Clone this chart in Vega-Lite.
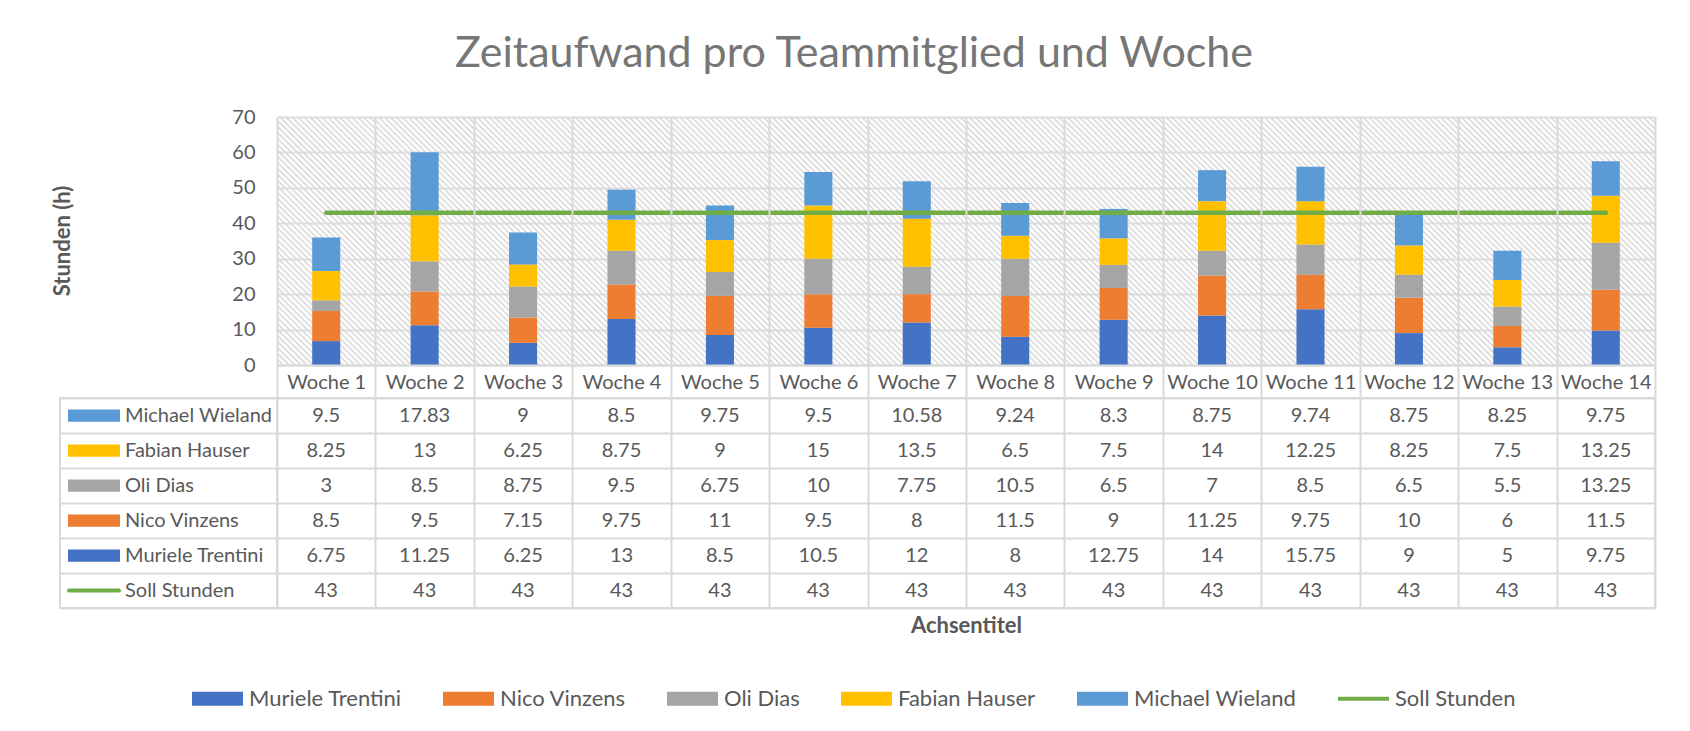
{
  "$schema": "https://vega.github.io/schema/vega-lite/v6.json",
  "padding": {"left": 51, "top": 33, "right": 34, "bottom": 5},
  "title": {"text": "Zeitaufwand pro Teammitglied und Woche", "fontSize": 43, "font": "Lato", "fontWeight": "normal", "color": "#767676", "anchor": "middle", "baseline": "alphabetic", "offset": -3},
  "config": {
    "font": "Lato",
    "view": {"stroke": null},
    "axis": {"labelFont": "Lato", "titleFont": "Lato", "labelColor": "#595959", "titleColor": "#595959", "gridColor": "#d9d9d9", "gridWidth": 2, "tickColor": "#d9d9d9", "tickWidth": 2, "domainColor": "#d9d9d9", "domainWidth": 2},
    "legend": {"labelFont": "Lato", "labelFontSize": 22, "labelColor": "#595959", "labelLimit": 400}
  },
  "data": {"values": [
    {"week": "Woche 1", "Muriele Trentini": 6.75, "Nico Vinzens": 8.5, "Oli Dias": 3, "Fabian Hauser": 8.25, "Michael Wieland": 9.5, "Soll Stunden": 43},
    {"week": "Woche 2", "Muriele Trentini": 11.25, "Nico Vinzens": 9.5, "Oli Dias": 8.5, "Fabian Hauser": 13, "Michael Wieland": 17.83, "Soll Stunden": 43},
    {"week": "Woche 3", "Muriele Trentini": 6.25, "Nico Vinzens": 7.15, "Oli Dias": 8.75, "Fabian Hauser": 6.25, "Michael Wieland": 9, "Soll Stunden": 43},
    {"week": "Woche 4", "Muriele Trentini": 13, "Nico Vinzens": 9.75, "Oli Dias": 9.5, "Fabian Hauser": 8.75, "Michael Wieland": 8.5, "Soll Stunden": 43},
    {"week": "Woche 5", "Muriele Trentini": 8.5, "Nico Vinzens": 11, "Oli Dias": 6.75, "Fabian Hauser": 9, "Michael Wieland": 9.75, "Soll Stunden": 43},
    {"week": "Woche 6", "Muriele Trentini": 10.5, "Nico Vinzens": 9.5, "Oli Dias": 10, "Fabian Hauser": 15, "Michael Wieland": 9.5, "Soll Stunden": 43},
    {"week": "Woche 7", "Muriele Trentini": 12, "Nico Vinzens": 8, "Oli Dias": 7.75, "Fabian Hauser": 13.5, "Michael Wieland": 10.58, "Soll Stunden": 43},
    {"week": "Woche 8", "Muriele Trentini": 8, "Nico Vinzens": 11.5, "Oli Dias": 10.5, "Fabian Hauser": 6.5, "Michael Wieland": 9.24, "Soll Stunden": 43},
    {"week": "Woche 9", "Muriele Trentini": 12.75, "Nico Vinzens": 9, "Oli Dias": 6.5, "Fabian Hauser": 7.5, "Michael Wieland": 8.3, "Soll Stunden": 43},
    {"week": "Woche 10", "Muriele Trentini": 14, "Nico Vinzens": 11.25, "Oli Dias": 7, "Fabian Hauser": 14, "Michael Wieland": 8.75, "Soll Stunden": 43},
    {"week": "Woche 11", "Muriele Trentini": 15.75, "Nico Vinzens": 9.75, "Oli Dias": 8.5, "Fabian Hauser": 12.25, "Michael Wieland": 9.74, "Soll Stunden": 43},
    {"week": "Woche 12", "Muriele Trentini": 9, "Nico Vinzens": 10, "Oli Dias": 6.5, "Fabian Hauser": 8.25, "Michael Wieland": 8.75, "Soll Stunden": 43},
    {"week": "Woche 13", "Muriele Trentini": 5, "Nico Vinzens": 6, "Oli Dias": 5.5, "Fabian Hauser": 7.5, "Michael Wieland": 8.25, "Soll Stunden": 43},
    {"week": "Woche 14", "Muriele Trentini": 9.75, "Nico Vinzens": 11.5, "Oli Dias": 13.25, "Fabian Hauser": 13.25, "Michael Wieland": 9.75, "Soll Stunden": 43}
  ]},
  "columns": 2,
  "spacing": {"row": 33, "column": 0},
  "bounds": "flush",
  "resolve": {"scale": {"color": "shared"}, "legend": {"color": "shared"}},
  "concat": [
    {
      "width": 217, "height": 248,
      "data": {"values": [{"label": "Stunden (h)"}]},
      "mark": {"type": "text", "angle": 270, "fontSize": 22, "fontWeight": "bold", "font": "Lato", "color": "#595959", "align": "center", "baseline": "middle"},
      "encoding": {
        "x": {"datum": 3, "type": "quantitative", "scale": {"domain": [0, 217], "nice": false, "zero": false}, "axis": null},
        "y": {"datum": 35, "type": "quantitative", "scale": {"domain": [0, 70], "nice": false}, "axis": null},
        "text": {"field": "label", "type": "nominal"}
      }
    },
    {
      "width": 1378, "height": 248,
      "transform": [{"fold": ["Muriele Trentini", "Nico Vinzens", "Oli Dias", "Fabian Hauser", "Michael Wieland", "Soll Stunden"], "as": ["key", "value"]}],
      "encoding": {
        "x": {"field": "week", "type": "nominal",
          "sort": ["Woche 1", "Woche 2", "Woche 3", "Woche 4", "Woche 5", "Woche 6", "Woche 7", "Woche 8", "Woche 9", "Woche 10", "Woche 11", "Woche 12", "Woche 13", "Woche 14"],
          "scale": {"paddingInner": 0, "paddingOuter": 0},
          "axis": {"title": null, "labelFontSize": 20, "labelAngle": 0, "tickBand": "extent", "tickSize": 33, "labelPadding": -25.5, "grid": true, "domain": true}},
        "y": {"field": "value", "type": "quantitative",
          "scale": {"domain": [0, 70], "nice": false},
          "axis": {"values": [0, 10, 20, 30, 40, 50, 60, 70], "labelOverlap": false, "title": null, "labelFontSize": 20, "labelPadding": 22, "ticks": false, "domain": false, "grid": true}}
      },
      "layer": [
        {
          "transform": [{"filter": "datum.key === 'Soll Stunden'"}],
          "mark": {"type": "rect", "fill": {"gradient": "linear", "x1": 0, "y1": 1, "x2": 0.479, "y2": -0.207, "stops": [
            {"offset": 0, "color": "#d2d2d2"}, {"offset": 0.0086, "color": "rgba(255,255,255,0)"},
            {"offset": 0.0172, "color": "#d2d2d2"}, {"offset": 0.0259, "color": "rgba(255,255,255,0)"},
            {"offset": 0.0345, "color": "#d2d2d2"}, {"offset": 0.0431, "color": "rgba(255,255,255,0)"},
            {"offset": 0.0517, "color": "#d2d2d2"}, {"offset": 0.0603, "color": "rgba(255,255,255,0)"},
            {"offset": 0.069, "color": "#d2d2d2"}, {"offset": 0.0776, "color": "rgba(255,255,255,0)"},
            {"offset": 0.0862, "color": "#d2d2d2"}, {"offset": 0.0948, "color": "rgba(255,255,255,0)"},
            {"offset": 0.1034, "color": "#d2d2d2"}, {"offset": 0.1121, "color": "rgba(255,255,255,0)"},
            {"offset": 0.1207, "color": "#d2d2d2"}, {"offset": 0.1293, "color": "rgba(255,255,255,0)"},
            {"offset": 0.1379, "color": "#d2d2d2"}, {"offset": 0.1466, "color": "rgba(255,255,255,0)"},
            {"offset": 0.1552, "color": "#d2d2d2"}, {"offset": 0.1638, "color": "rgba(255,255,255,0)"},
            {"offset": 0.1724, "color": "#d2d2d2"}, {"offset": 0.181, "color": "rgba(255,255,255,0)"},
            {"offset": 0.1897, "color": "#d2d2d2"}, {"offset": 0.1983, "color": "rgba(255,255,255,0)"},
            {"offset": 0.2069, "color": "#d2d2d2"}, {"offset": 0.2155, "color": "rgba(255,255,255,0)"},
            {"offset": 0.2241, "color": "#d2d2d2"}, {"offset": 0.2328, "color": "rgba(255,255,255,0)"},
            {"offset": 0.2414, "color": "#d2d2d2"}, {"offset": 0.25, "color": "rgba(255,255,255,0)"},
            {"offset": 0.2586, "color": "#d2d2d2"}, {"offset": 0.2672, "color": "rgba(255,255,255,0)"},
            {"offset": 0.2759, "color": "#d2d2d2"}, {"offset": 0.2845, "color": "rgba(255,255,255,0)"},
            {"offset": 0.2931, "color": "#d2d2d2"}, {"offset": 0.3017, "color": "rgba(255,255,255,0)"},
            {"offset": 0.3103, "color": "#d2d2d2"}, {"offset": 0.319, "color": "rgba(255,255,255,0)"},
            {"offset": 0.3276, "color": "#d2d2d2"}, {"offset": 0.3362, "color": "rgba(255,255,255,0)"},
            {"offset": 0.3448, "color": "#d2d2d2"}, {"offset": 0.3534, "color": "rgba(255,255,255,0)"},
            {"offset": 0.3621, "color": "#d2d2d2"}, {"offset": 0.3707, "color": "rgba(255,255,255,0)"},
            {"offset": 0.3793, "color": "#d2d2d2"}, {"offset": 0.3879, "color": "rgba(255,255,255,0)"},
            {"offset": 0.3966, "color": "#d2d2d2"}, {"offset": 0.4052, "color": "rgba(255,255,255,0)"},
            {"offset": 0.4138, "color": "#d2d2d2"}, {"offset": 0.4224, "color": "rgba(255,255,255,0)"},
            {"offset": 0.431, "color": "#d2d2d2"}, {"offset": 0.4397, "color": "rgba(255,255,255,0)"},
            {"offset": 0.4483, "color": "#d2d2d2"}, {"offset": 0.4569, "color": "rgba(255,255,255,0)"},
            {"offset": 0.4655, "color": "#d2d2d2"}, {"offset": 0.4741, "color": "rgba(255,255,255,0)"},
            {"offset": 0.4828, "color": "#d2d2d2"}, {"offset": 0.4914, "color": "rgba(255,255,255,0)"},
            {"offset": 0.5, "color": "#d2d2d2"}, {"offset": 0.5086, "color": "rgba(255,255,255,0)"},
            {"offset": 0.5172, "color": "#d2d2d2"}, {"offset": 0.5259, "color": "rgba(255,255,255,0)"},
            {"offset": 0.5345, "color": "#d2d2d2"}, {"offset": 0.5431, "color": "rgba(255,255,255,0)"},
            {"offset": 0.5517, "color": "#d2d2d2"}, {"offset": 0.5603, "color": "rgba(255,255,255,0)"},
            {"offset": 0.569, "color": "#d2d2d2"}, {"offset": 0.5776, "color": "rgba(255,255,255,0)"},
            {"offset": 0.5862, "color": "#d2d2d2"}, {"offset": 0.5948, "color": "rgba(255,255,255,0)"},
            {"offset": 0.6034, "color": "#d2d2d2"}, {"offset": 0.6121, "color": "rgba(255,255,255,0)"},
            {"offset": 0.6207, "color": "#d2d2d2"}, {"offset": 0.6293, "color": "rgba(255,255,255,0)"},
            {"offset": 0.6379, "color": "#d2d2d2"}, {"offset": 0.6466, "color": "rgba(255,255,255,0)"},
            {"offset": 0.6552, "color": "#d2d2d2"}, {"offset": 0.6638, "color": "rgba(255,255,255,0)"},
            {"offset": 0.6724, "color": "#d2d2d2"}, {"offset": 0.681, "color": "rgba(255,255,255,0)"},
            {"offset": 0.6897, "color": "#d2d2d2"}, {"offset": 0.6983, "color": "rgba(255,255,255,0)"},
            {"offset": 0.7069, "color": "#d2d2d2"}, {"offset": 0.7155, "color": "rgba(255,255,255,0)"},
            {"offset": 0.7241, "color": "#d2d2d2"}, {"offset": 0.7328, "color": "rgba(255,255,255,0)"},
            {"offset": 0.7414, "color": "#d2d2d2"}, {"offset": 0.75, "color": "rgba(255,255,255,0)"},
            {"offset": 0.7586, "color": "#d2d2d2"}, {"offset": 0.7672, "color": "rgba(255,255,255,0)"},
            {"offset": 0.7759, "color": "#d2d2d2"}, {"offset": 0.7845, "color": "rgba(255,255,255,0)"},
            {"offset": 0.7931, "color": "#d2d2d2"}, {"offset": 0.8017, "color": "rgba(255,255,255,0)"},
            {"offset": 0.8103, "color": "#d2d2d2"}, {"offset": 0.819, "color": "rgba(255,255,255,0)"},
            {"offset": 0.8276, "color": "#d2d2d2"}, {"offset": 0.8362, "color": "rgba(255,255,255,0)"},
            {"offset": 0.8448, "color": "#d2d2d2"}, {"offset": 0.8534, "color": "rgba(255,255,255,0)"},
            {"offset": 0.8621, "color": "#d2d2d2"}, {"offset": 0.8707, "color": "rgba(255,255,255,0)"},
            {"offset": 0.8793, "color": "#d2d2d2"}, {"offset": 0.8879, "color": "rgba(255,255,255,0)"},
            {"offset": 0.8966, "color": "#d2d2d2"}, {"offset": 0.9052, "color": "rgba(255,255,255,0)"},
            {"offset": 0.9138, "color": "#d2d2d2"}, {"offset": 0.9224, "color": "rgba(255,255,255,0)"},
            {"offset": 0.931, "color": "#d2d2d2"}, {"offset": 0.9397, "color": "rgba(255,255,255,0)"},
            {"offset": 0.9483, "color": "#d2d2d2"}, {"offset": 0.9569, "color": "rgba(255,255,255,0)"},
            {"offset": 0.9655, "color": "#d2d2d2"}, {"offset": 0.9741, "color": "rgba(255,255,255,0)"},
            {"offset": 0.9828, "color": "#d2d2d2"}, {"offset": 0.9914, "color": "rgba(255,255,255,0)"},
            {"offset": 1, "color": "#d2d2d2"}
          ]}},
          "encoding": {
            "y": {"datum": 0, "type": "quantitative"},
            "y2": {"datum": 70}
          }
        },
        {
          "transform": [
            {"filter": "datum.key !== 'Soll Stunden'"},
            {"calculate": "indexof(['Muriele Trentini', 'Nico Vinzens', 'Oli Dias', 'Fabian Hauser', 'Michael Wieland'], datum.key)", "as": "stackRank"}
          ],
          "mark": {"type": "bar", "width": {"band": 0.285}},
          "encoding": {
            "order": {"field": "stackRank", "type": "quantitative", "sort": "ascending"},
            "color": {"field": "key", "type": "nominal",
              "scale": {"domain": ["Muriele Trentini", "Nico Vinzens", "Oli Dias", "Fabian Hauser", "Michael Wieland", "Soll Stunden"],
                "range": ["#4472c4", "#ed7d31", "#a5a5a5", "#ffc000", "#5b9bd5", "#70ad47"]},
              "legend": {"orient": "none", "legendX": 132, "legendY": 556, "direction": "horizontal", "title": null,
                "symbolSize": 2601, "symbolType": "M-1,-0.27H1V0.27H-1Z", "symbolStrokeWidth": 0,
                "labelOffset": 6, "columnPadding": 41, "labelFontSize": 22, "labelColor": "#595959", "labelLimit": 400,
                "encode": {"symbols": {"update": {
                  "shape": {"signal": "datum.value === 'Soll Stunden' ? 'M-1,-0.075H1V0.075H-1Z' : 'M-1,-0.27H1V0.27H-1Z'"},
                  "fill": {"scale": "color", "field": "value"},
                  "opacity": {"value": 1}}}}}}
          }
        },
        {
          "transform": [{"filter": "datum.key === 'Soll Stunden'"}],
          "mark": {"type": "line", "strokeWidth": 4.5, "strokeCap": "round"},
          "encoding": {
            "color": {"field": "key", "type": "nominal"}
          }
        }
      ]
    },
    {
      "width": 217, "height": 210,
      "view": {"stroke": "#d9d9d9", "strokeWidth": 2},
      "transform": [{"fold": ["Muriele Trentini", "Nico Vinzens", "Oli Dias", "Fabian Hauser", "Michael Wieland", "Soll Stunden"], "as": ["key", "value"]}, {"filter": "datum.week === 'Woche 1'"}],
      "encoding": {
        "y": {"field": "key", "type": "nominal",
          "sort": ["Michael Wieland", "Fabian Hauser", "Oli Dias", "Nico Vinzens", "Muriele Trentini", "Soll Stunden"],
          "scale": {"paddingInner": 0, "paddingOuter": 0},
          "axis": {"title": null, "labels": false, "ticks": false, "domain": false, "grid": true, "tickBand": "extent"}}
      },
      "layer": [
        {
          "transform": [{"filter": "datum.key !== 'Soll Stunden'"}],
          "mark": {"type": "bar", "height": {"band": 0.35}},
          "encoding": {
            "x": {"datum": 8, "type": "quantitative", "scale": {"domain": [0, 217], "nice": false, "zero": false}, "axis": null},
            "x2": {"datum": 60},
            "color": {"field": "key", "type": "nominal"}
          }
        },
        {
          "transform": [{"filter": "datum.key === 'Soll Stunden'"}],
          "mark": {"type": "rule", "strokeWidth": 4, "strokeCap": "round"},
          "encoding": {
            "x": {"datum": 9, "type": "quantitative"},
            "x2": {"datum": 59},
            "color": {"field": "key", "type": "nominal"}
          }
        },
        {
          "mark": {"type": "text", "align": "left", "fontSize": 20, "font": "Lato", "color": "#595959"},
          "encoding": {
            "x": {"datum": 65, "type": "quantitative"},
            "text": {"field": "key", "type": "nominal"}
          }
        }
      ]
    },
    {
      "width": 1378, "height": 210,
      "view": {"stroke": "#d9d9d9", "strokeWidth": 2},
      "transform": [{"fold": ["Muriele Trentini", "Nico Vinzens", "Oli Dias", "Fabian Hauser", "Michael Wieland", "Soll Stunden"], "as": ["key", "value"]}],
      "mark": {"type": "text", "fontSize": 20, "font": "Lato", "color": "#595959"},
      "encoding": {
        "x": {"field": "week", "type": "nominal",
          "sort": ["Woche 1", "Woche 2", "Woche 3", "Woche 4", "Woche 5", "Woche 6", "Woche 7", "Woche 8", "Woche 9", "Woche 10", "Woche 11", "Woche 12", "Woche 13", "Woche 14"],
          "scale": {"paddingInner": 0, "paddingOuter": 0},
          "axis": {"title": "Achsentitel", "titleFontSize": 22, "titleFontWeight": "bold", "titlePadding": 7, "labels": false, "ticks": false, "domain": false, "grid": true, "tickBand": "extent"}},
        "y": {"field": "key", "type": "nominal",
          "sort": ["Michael Wieland", "Fabian Hauser", "Oli Dias", "Nico Vinzens", "Muriele Trentini", "Soll Stunden"],
          "scale": {"paddingInner": 0, "paddingOuter": 0},
          "axis": {"title": null, "labels": false, "ticks": false, "domain": false, "grid": true, "tickBand": "extent"}},
        "text": {"field": "value", "type": "nominal"}
      }
    }
  ]
}
